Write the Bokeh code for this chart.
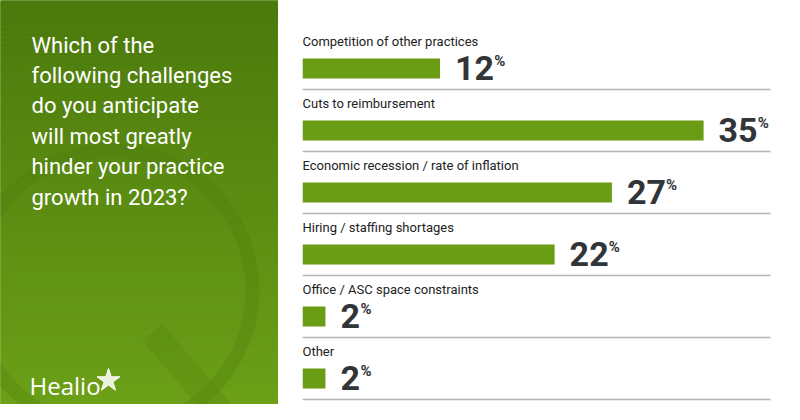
import numpy as np
from bokeh.plotting import figure
from bokeh.layouts import row
from bokeh.models import Range1d, ColumnDataSource
from bokeh.core.properties import value
from bokeh.embed import file_html
from bokeh.resources import INLINE

# ---------------- data ----------------
categories = [
    "Competition of other practices",
    "Cuts to reimbursement",
    "Economic recession / rate of inflation",
    "Hiring / staffing shortages",
    "Office / ASC space constraints",
    "Other",
]
percents = [12, 35, 27, 22, 2, 2]
value_labels = ["12", "35", "27", "22", "2", "2"]
title_lines = [
    "Which of the",
    "following challenges",
    "do you anticipate",
    "will most greatly",
    "hinder your practice",
    "growth in 2023?",
]
brand = "Healio"

# ---------------- style ----------------
BAR = "#6a9c14"
INK = "#323538"
LABEL_INK = "#222222"
SEP = "#b4b4b4"
H = 404
L_W = 278
R_W = 784 - L_W
PAD_L = 24
PX_PER_PCT = 11.46
ROW = 62.0
BL = 0.38  # baseline correction (fraction of font size)

# ---------------- left panel ----------------
left = figure(width=L_W, height=H, x_range=Range1d(0, L_W), y_range=Range1d(H, 0),
              output_backend="svg", toolbar_location=None,
              x_axis_location=None, y_axis_location=None, min_border=0)
left.outline_line_color = None
left.grid.visible = False
left.background_fill_color = "#5f9014"
left.border_fill_color = "#5f9014"

n = 81
edges = np.linspace(0, H, n + 1)
top_c = np.array([76, 122, 13])
bot_c = np.array([108, 160, 24])
cols = []
for k in range(n):
    t = k / (n - 1)
    c = (top_c * (1 - t) + bot_c * t).astype(int)
    cols.append("#%02x%02x%02x" % tuple(c))
left.quad(left=[0] * n, right=[L_W] * n, top=list(edges[:-1]), bottom=list(edges[1:]),
          fill_color=cols, line_color=cols, line_width=1)

# decorative "Q"
left.circle(x=[112], y=[290], radius=140, fill_color=None, line_color="#4a7a0c",
            line_alpha=0.28, line_width=14)
left.segment(x0=[152], y0=[332], x1=[245], y1=[440], line_color="#5a8a10",
             line_alpha=0.4, line_width=26)

title_fs = 22
title_src = ColumnDataSource(dict(x=[31] * len(title_lines),
                                  y=[53 + 30.4 * k - BL * title_fs for k in range(len(title_lines))],
                                  t=title_lines))
left.text(x="x", y="y", text="t", source=title_src, text_color="white",
          text_font=value("Roboto"), text_font_size="%dpx" % title_fs, text_baseline="alphabetic")

left.text(x=[29], y=[394 - BL * 24], text=[brand], text_color="white", text_font=value("Open Sans"),
          text_font_size="24px", text_baseline="alphabetic")
left.scatter(x=[108], y=[380], marker="star", size=24, fill_color="white",
             line_color="white", fill_alpha=0.85)

# ---------------- right panel ----------------
frame_w = R_W - PAD_L
right = figure(width=R_W, height=H,
               x_range=Range1d(0, frame_w / PX_PER_PCT),
               y_range=Range1d((H - 68) / ROW, -68 / ROW),
               output_backend="svg", toolbar_location=None,
               x_axis_location=None, y_axis_location=None,
               min_border_left=PAD_L, min_border_right=0, min_border_top=0, min_border_bottom=0)
right.outline_line_color = None
right.grid.visible = False
right.background_fill_color = "white"
right.border_fill_color = "white"

idx = list(range(len(categories)))
gap = 15 / PX_PER_PCT
digit_w = 19.1
src = ColumnDataSource(dict(
    y=idx,
    v=percents,
    cat=categories,
    lab=value_labels,
    pct=["%"] * len(idx),
    ly=[i + (-22 - BL * 13) / ROW for i in idx],
    ny=[i + (12 - BL * 34) / ROW for i in idx],
    py=[i + (-2 - BL * 15) / ROW for i in idx],
    nx=[v + gap for v in percents],
    px=[v + (15 + digit_w * len(s) + 1) / PX_PER_PCT for v, s in zip(percents, value_labels)],
    sy=[i + 21 / ROW for i in idx],
    x0=[0] * len(idx),
    x1=[(770 - 302) / PX_PER_PCT] * len(idx),
))

right.segment(x0="x0", y0="sy", x1="x1", y1="sy", source=src, line_color=SEP, line_width=1.5)
right.hbar(y="y", left=0, right="v", height=20 / ROW, source=src, fill_color=BAR, line_color=None)
right.text(x=0, y="ly", text="cat", source=src, text_color=LABEL_INK,
           text_font=value("Roboto"), text_font_size="13px", text_baseline="alphabetic")
right.text(x="nx", y="ny", text="lab", source=src, text_color=INK,
           text_font=value("Roboto"), text_font_style="bold", text_font_size="34px",
           text_baseline="alphabetic")
right.text(x="px", y="py", text="pct", source=src, text_color=INK,
           text_font=value("Roboto"), text_font_style="bold", text_font_size="15px",
           text_baseline="alphabetic")

layout = row(left, right)
open("out.html", "w").write(file_html(layout, INLINE))
